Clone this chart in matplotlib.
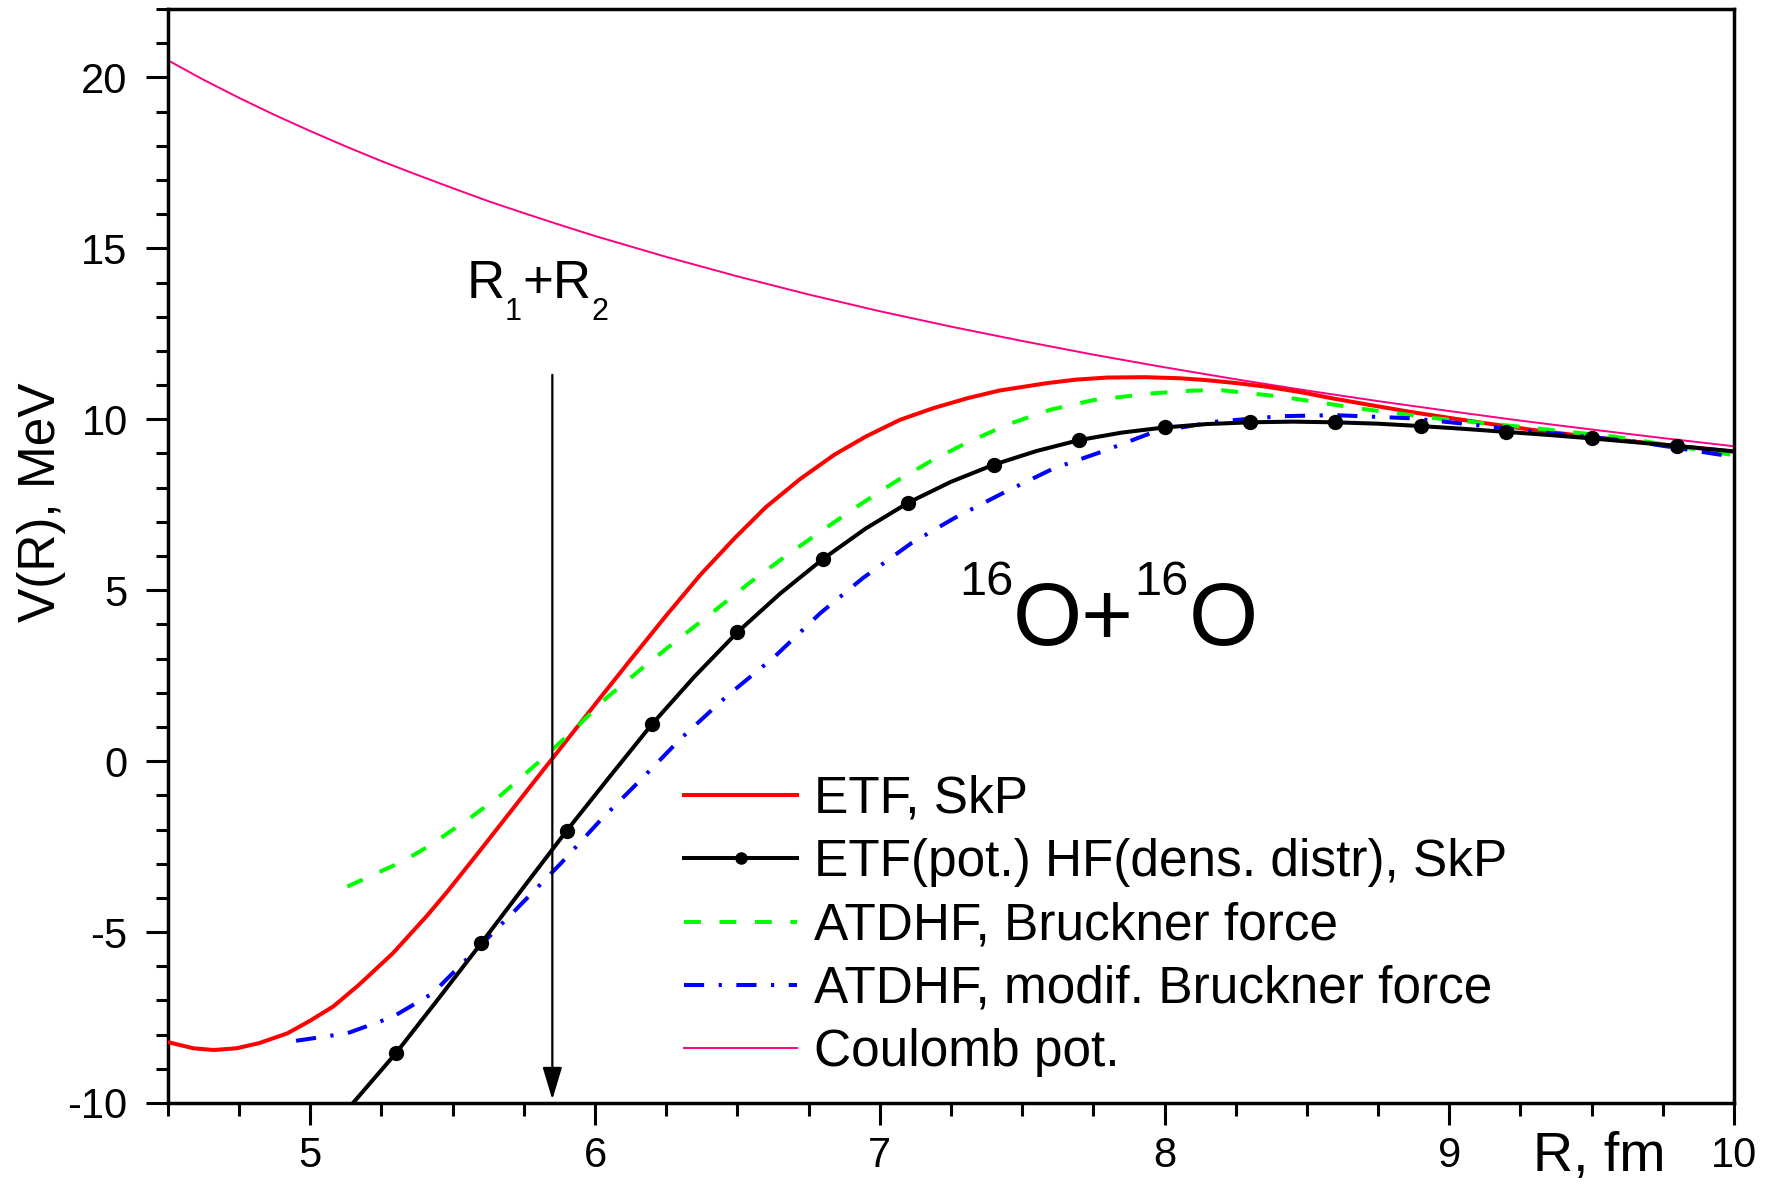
import matplotlib
matplotlib.use("Agg")
import matplotlib.pyplot as plt
from matplotlib.ticker import MultipleLocator, FixedLocator

plt.rcParams['font.family'] = ['Liberation Sans', 'DejaVu Sans']
plt.rcParams['axes.unicode_minus'] = False

# ---------------- data ----------------
R_etf = [4.50, 4.59, 4.66, 4.74, 4.82, 4.92, 5.00, 5.08, 5.17, 5.29, 5.41, 5.48, 5.59, 5.69,
         5.77, 5.84, 5.93, 6.02, 6.13, 6.25, 6.37, 6.49, 6.60, 6.72, 6.84, 6.95, 7.07, 7.19,
         7.31, 7.42, 7.59, 7.69, 7.80, 7.93, 8.05, 8.14, 8.25, 8.36, 8.48, 8.59, 8.72, 8.86,
         9.00, 9.13, 9.30, 9.49, 9.75, 10.0]
V_etf = [-8.22, -8.40, -8.45, -8.40, -8.25, -7.96, -7.59, -7.18, -6.55, -5.62, -4.52, -3.83, -2.68, -1.62,
         -0.77, -0.03, 0.92, 1.87, 3.02, 4.26, 5.45, 6.52, 7.43, 8.25, 8.96, 9.49, 9.98, 10.33,
         10.62, 10.84, 11.06, 11.16, 11.22, 11.23, 11.20, 11.15, 11.06, 10.95, 10.79, 10.61, 10.42, 10.22,
         10.04, 9.88, 9.68, 9.49, 9.26, 9.05]

R_hf = [5.15, 5.30, 5.45, 5.60, 5.75, 5.90, 6.05, 6.20, 6.35, 6.50, 6.65, 6.80, 6.95, 7.10, 7.25,
        7.40, 7.55, 7.70, 7.85, 8.00, 8.15, 8.30, 8.45, 8.60, 8.75, 8.90, 9.05, 9.20, 9.35, 9.50,
        9.65, 9.80, 9.95, 10.0]
V_hf = [-10.0, -8.55, -6.95, -5.33, -3.68, -2.04, -0.47, 1.08, 2.48, 3.77, 4.90, 5.91, 6.80, 7.56, 8.17,
        8.67, 9.07, 9.39, 9.61, 9.76, 9.86, 9.91, 9.93, 9.91, 9.87, 9.80, 9.72, 9.63, 9.54, 9.44,
        9.33, 9.22, 9.10, 9.06]
R_hf_points = [5.3, 5.6, 5.9, 6.2, 6.5, 6.8, 7.1, 7.4, 7.7, 8.0, 8.3, 8.6, 8.9, 9.2, 9.5, 9.8]

R_atdhf = [5.13, 5.32, 5.41, 5.56, 5.67, 5.81, 5.93, 6.04, 6.17, 6.29, 6.42, 6.54, 6.67, 6.80, 6.93,
           7.05, 7.18, 7.30, 7.45, 7.60, 7.75, 7.96, 8.10, 8.20, 8.41, 8.68, 8.95, 9.31, 9.58, 10.0]
V_atdhf = [-3.67, -2.95, -2.52, -1.67, -0.99, 0.03, 0.95, 1.85, 2.75, 3.55, 4.40, 5.20, 6.00, 6.76, 7.50,
           8.15, 8.78, 9.29, 9.85, 10.28, 10.56, 10.76, 10.84, 10.85, 10.66, 10.32, 10.03, 9.73, 9.49, 8.95]

R_mod = [4.95, 5.13, 5.29, 5.43, 5.57, 5.72, 5.88, 6.02, 6.16, 6.30, 6.46, 6.63, 6.79, 6.94, 7.11,
         7.26, 7.43, 7.61, 7.78, 7.96, 8.18, 8.41, 8.60, 8.86, 9.04, 9.31, 9.66, 10.0]
V_mod = [-8.18, -7.96, -7.48, -6.79, -5.62, -4.36, -2.99, -1.72, -0.55, 0.65, 1.88, 3.05, 4.32, 5.35, 6.37,
         7.10, 7.83, 8.56, 9.05, 9.62, 9.93, 10.09, 10.12, 10.03, 9.88, 9.63, 9.34, 8.90]

R_coul = [4.500, 4.625, 4.750, 4.875, 5.000, 5.125, 5.250, 5.375, 5.500, 5.625, 5.750, 5.875,
          6.00, 6.25, 6.50, 6.75, 7.00, 7.25, 7.50, 7.75, 8.00, 8.25, 8.50, 8.75, 9.00, 9.25,
          9.50, 9.75, 10.0]
V_coul = [20.50, 19.93, 19.40, 18.90, 18.43, 17.98, 17.55, 17.15, 16.76, 16.38, 16.03, 15.69,
          15.36, 14.75, 14.18, 13.65, 13.16, 12.71, 12.29, 11.89, 11.52, 11.17, 10.84, 10.53, 10.24, 9.96,
          9.70, 9.45, 9.21]

labels = ["ETF, SkP", "ETF(pot.) HF(dens. distr), SkP", "ATDHF, Bruckner force",
          "ATDHF, modif. Bruckner force", "Coulomb pot."]
x_ticks = [5, 6, 7, 8, 9, 10]
y_ticks = [-10, -5, 0, 5, 10, 15, 20]
R_touch = 5.85          # R1+R2 arrow position
arrow_top = 11.3

# ---------------- figure ----------------
fig = plt.figure(figsize=(17.79, 11.85), dpi=100)
ax = fig.add_axes([0.0944, 0.0692, 0.9747 - 0.0944, 0.9924 - 0.0692])

lw = 2.9
ax.plot(R_etf, V_etf, color='#FF0000', lw=lw, label=labels[0], zorder=3)
mark_idx = [R_hf.index(r) for r in R_hf_points]
ax.plot(R_hf, V_hf, color='black', lw=lw, marker='o', markersize=10,
        markevery=mark_idx, label=labels[1], zorder=4)
ax.plot(R_atdhf, V_atdhf, color='#00FF00', lw=lw, dashes=(4.2, 4.6), label=labels[2], zorder=3)
ax.plot(R_mod, V_mod, color='#0000FF', lw=lw, dashes=(5.0, 3.6, 0.8, 3.6), label=labels[3], zorder=3)
ax.plot(R_coul, V_coul, color='#FF0080', lw=1.4, label=labels[4], zorder=2)

ax.set_xlim(4.5, 10)
ax.set_ylim(-10, 22)
ax.xaxis.set_major_locator(FixedLocator(x_ticks))
ax.xaxis.set_minor_locator(MultipleLocator(0.25))
ax.yaxis.set_major_locator(FixedLocator(y_ticks))
ax.yaxis.set_minor_locator(MultipleLocator(1))
ax.tick_params(axis='both', which='major', direction='out', length=16, width=2.2,
               labelsize=30, top=False, right=False)
ax.tick_params(axis='both', which='minor', direction='out', length=9, width=2.2,
               top=False, right=False)
ax.tick_params(axis='x', which='major', pad=8)
ax.tick_params(axis='y', which='major', pad=13)
for s in ax.spines.values():
    s.set_linewidth(2.5)

ax.set_ylabel('V(R), MeV', fontsize=37, va='center')
ax.yaxis.set_label_coords(-0.081, 0.549)
ax.set_xlabel('R, fm', fontsize=40, va='center')
ax.xaxis.set_label_coords(0.914, -0.049)

# legend
leg = ax.legend(loc='upper left', bbox_to_anchor=(0.3296, 0.300), frameon=False,
                fontsize=37, handlelength=2.2, handletextpad=0.32, labelspacing=0.28,
                borderpad=0, borderaxespad=0, markerscale=0.8, numpoints=1)

# R1+R2 arrow
ax.annotate('', xy=(R_touch, -9.9), xytext=(R_touch, arrow_top),
            arrowprops=dict(arrowstyle='-|>,head_length=1.0,head_width=0.3',
                            mutation_scale=20, lw=1.6, color='black',
                            shrinkA=0, shrinkB=0))
yr = 13.55
t = ax.text(5.55, yr, 'R', fontsize=38, va='baseline', ha='left')
t = ax.annotate('1', xy=(1, yr), xycoords=(t, 'data'), xytext=(0, -16),
                textcoords='offset points', fontsize=22, va='baseline', ha='left')
t = ax.annotate('+R', xy=(1, yr), xycoords=(t, 'data'), fontsize=38,
                va='baseline', ha='left')
t = ax.annotate('2', xy=(1, yr), xycoords=(t, 'data'), xytext=(0, -16),
                textcoords='offset points', fontsize=22, va='baseline', ha='left')

# 16O+16O
yb = 3.40
t = ax.annotate('16', xy=(7.278, yb), xycoords='data', xytext=(0, 36),
                textcoords='offset points', fontsize=35, va='baseline', ha='left')
t = ax.annotate('O+', xy=(1, yb), xycoords=(t, 'data'), fontsize=64, va='baseline', ha='left')
t = ax.annotate('16', xy=(1, yb), xycoords=(t, 'data'), xytext=(0, 36),
                textcoords='offset points', fontsize=35, va='baseline', ha='left')
t = ax.annotate('O', xy=(1, yb), xycoords=(t, 'data'), fontsize=64, va='baseline', ha='left')

fig.savefig('out.png', dpi=100)
